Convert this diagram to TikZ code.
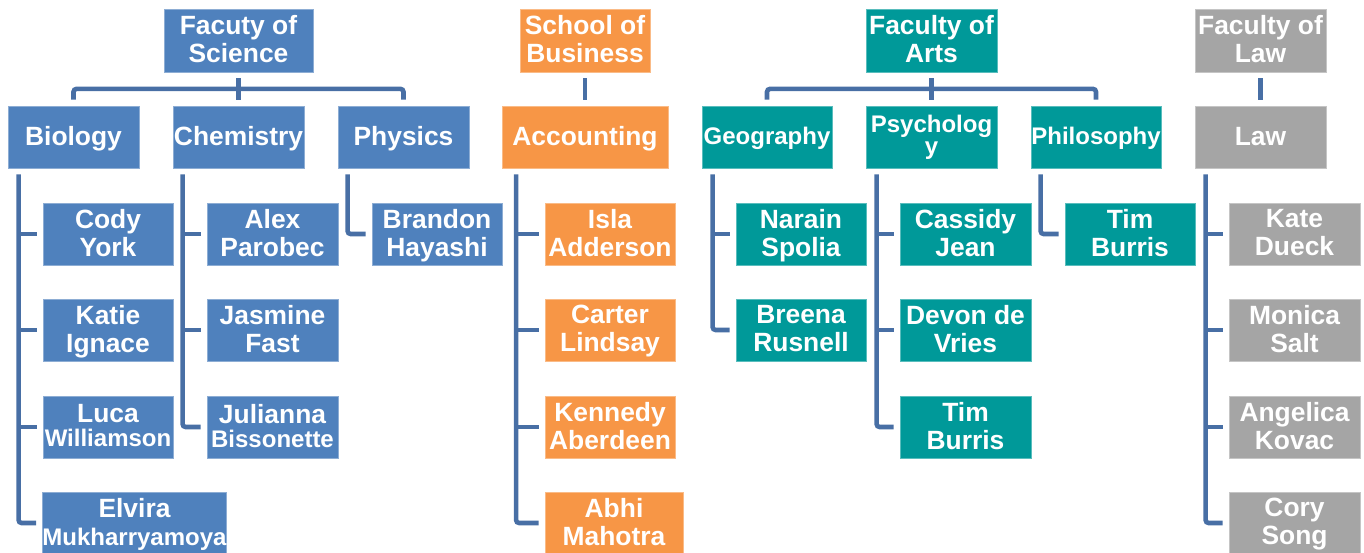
\documentclass[tikz,border=0pt]{standalone}
\usepackage{fontspec}
\setmainfont{Liberation Sans}
\usetikzlibrary{calc}
\definecolor{cblue}{HTML}{4F81BD}
\definecolor{corange}{HTML}{F79646}
\definecolor{cteal}{HTML}{009999}
\definecolor{cgrey}{HTML}{A5A5A5}
\definecolor{cline}{RGB}{72,111,165}
\newcommand{\sm}[1]{{\fontsize{24}{24}\selectfont #1}}
\newcommand{\lastline}[1]{\raisebox{0pt}[0pt][3pt]{#1}}
\newcommand{\two}[2]{#1\\\lastline{#2}}
\newcommand{\mktrunk}[4]{\coordinate (#1x) at ([xshift=-#4pt]#3.west); \coordinate (#1) at ([yshift=-6pt]#2.south -| #1x);}
\tikzset{
  box/.style={rectangle, inner sep=0pt, minimum height=62pt, minimum width=131pt,
    text=white, align=center, line width=0.8pt,
    font=\bfseries\fontsize{26.4}{28}\selectfont},
  one/.style={text height=19.2pt, text depth=3pt},
  onesm/.style={text height=17.5pt, text depth=3pt, font=\bfseries\fontsize{24}{24}\selectfont},
  bl/.style={box, fill=cblue, draw=cblue!65!white},
  orn/.style={box, fill=corange, draw=corange!65!white},
  tl/.style={box, fill=cteal, draw=cteal!65!white},
  gr/.style={box, fill=cgrey, draw=cgrey!65!white},
  conn/.style={draw=cline, line width=4.6pt, rounded corners=3pt},
}
\begin{document}
\begin{tikzpicture}[x=1pt,y=-1pt]
\useasboundingbox (0,0) rectangle (1364,552);
% top level
\node[bl, minimum width=149pt, minimum height=63pt] (sci) at (238.5,40.5) {\two{Facuty of}{Science}};
\node[orn, minimum width=130pt, minimum height=63pt] (bus) at (585,40.5) {\two{School of}{Business}};
\node[tl, minimum height=63pt] (arts) at (931.5,40.5) {\two{Faculty of}{Arts}};
\node[gr, minimum height=63pt] (lawf) at (1260.5,40.5) {\two{Faculty of}{Law}};
% level 2
\node[bl, one] (bio) at (73.5,137) {Biology};
\node[bl, one] (chem) at (238.5,137) {Chemistry};
\node[bl, one] (phys) at (403.5,137) {Physics};
\node[orn, one, minimum width=166pt] (acc) at (585,137) {Accounting};
\node[tl, onesm, minimum width=130pt] (geo) at (767,137) {Geography};
\node[tl, font=\bfseries\fontsize{24}{22}\selectfont] (psy) at (931.5,137) {Psycholog\\y};
\node[tl, onesm, minimum width=130pt] (phil) at (1096,137) {Philosophy};
\node[gr, one] (law) at (1260.5,137) {Law};
% biology
\node[bl, minimum width=130pt] (cody) at (108,234) {\two{Cody}{York}};
\node[bl, minimum width=130pt] (katie) at (108,330) {\two{Katie}{Ignace}};
\node[bl, minimum width=130pt] (luca) at (108,427) {Luca\\[-4pt]\lastline{\sm{Williamson}}};
\node[bl, minimum width=183pt] (elv) at (134.5,523) {Elvira\\\lastline{\sm{Mukharryamoya}}};
% chemistry
\node[bl] (alex) at (272.5,234) {\two{Alex}{Parobec}};
\node[bl] (jas) at (272.5,330) {\two{Jasmine}{Fast}};
\node[bl] (jul) at (272.5,427) {Julianna\\[-4pt]\lastline{\sm{Bissonette}}};
% physics
\node[bl, minimum width=130pt] (bran) at (437,234) {\two{Brandon}{Hayashi}};
% accounting
\node[orn, minimum width=130pt] (isla) at (610,234) {\two{Isla}{Adderson}};
\node[orn, minimum width=130pt] (cart) at (610,330) {\two{Carter}{Lindsay}};
\node[orn, minimum width=130pt] (ken) at (610,427) {\two{Kennedy}{Aberdeen}};
\node[orn, minimum width=138pt] (abhi) at (614,523) {\two{Abhi}{Mahotra}};
% geography
\node[tl, minimum width=130pt] (nar) at (801,234) {\two{Narain}{Spolia}};
\node[tl, minimum width=130pt] (bree) at (801,330) {\two{Breena}{Rusnell}};
% psychology
\node[tl] (cass) at (965.5,234) {\two{Cassidy}{Jean}};
\node[tl] (dev) at (965.5,330) {\two{Devon de}{Vries}};
\node[tl] (tim1) at (965.5,427) {\two{Tim}{Burris}};
% philosophy
\node[tl, minimum width=130pt] (tim2) at (1130,234) {\two{Tim}{Burris}};
% law
\node[gr] (kate) at (1294.5,234) {\two{Kate}{Dueck}};
\node[gr] (mon) at (1294.5,330) {\two{Monica}{Salt}};
\node[gr] (ang) at (1294.5,427) {\two{Angelica}{Kovac}};
\node[gr] (cory) at (1294.5,523) {\two{Cory}{Song}};

% top connectors
\draw[conn] ([yshift=-6pt]sci.south) -- ([yshift=6pt]chem.north);
\draw[conn] ([yshift=6pt]bio.north) |- ([yshift=-16.5pt]sci.south) -| ([yshift=6pt]phys.north);
\draw[conn] ([yshift=-6pt]bus.south) -- ([yshift=6pt]acc.north);
\draw[conn] ([yshift=-6pt]arts.south) -- ([yshift=6pt]psy.north);
\draw[conn] ([yshift=6pt]geo.north) |- ([yshift=-16.5pt]arts.south) -| ([yshift=6pt]phil.north);
\draw[conn] ([yshift=-6pt]lawf.south) -- ([yshift=6pt]law.north);

% trunks
\mktrunk{bioT}{bio}{cody}{24}
\draw[conn] (bioT) |- ([xshift=-6pt]elv.west);
\foreach \k in {cody,katie,luca} \draw[conn] (bioT |- \k.west) -- ([xshift=-6pt]\k.west);

\mktrunk{chemT}{chem}{alex}{24}
\draw[conn] (chemT) |- ([xshift=-6pt]jul.west);
\foreach \k in {alex,jas} \draw[conn] (chemT |- \k.west) -- ([xshift=-6pt]\k.west);

\mktrunk{physT}{phys}{bran}{24}
\draw[conn] (physT) |- ([xshift=-6pt]bran.west);

\mktrunk{accT}{acc}{isla}{28.5}
\draw[conn] (accT) |- ([xshift=-6pt]abhi.west);
\foreach \k in {isla,cart,ken} \draw[conn] (accT |- \k.west) -- ([xshift=-6pt]\k.west);

\mktrunk{geoT}{geo}{nar}{23}
\draw[conn] (geoT) |- ([xshift=-6pt]bree.west);
\draw[conn] (geoT |- nar.west) -- ([xshift=-6pt]nar.west);

\mktrunk{psyT}{psy}{cass}{23}
\draw[conn] (psyT) |- ([xshift=-6pt]tim1.west);
\foreach \k in {cass,dev} \draw[conn] (psyT |- \k.west) -- ([xshift=-6pt]\k.west);

\mktrunk{philT}{phil}{tim2}{24}
\draw[conn] (philT) |- ([xshift=-6pt]tim2.west);

\mktrunk{lawT}{law}{kate}{23}
\draw[conn] (lawT) |- ([xshift=-6pt]cory.west);
\foreach \k in {kate,mon,ang} \draw[conn] (lawT |- \k.west) -- ([xshift=-6pt]\k.west);
\end{tikzpicture}
\end{document}
